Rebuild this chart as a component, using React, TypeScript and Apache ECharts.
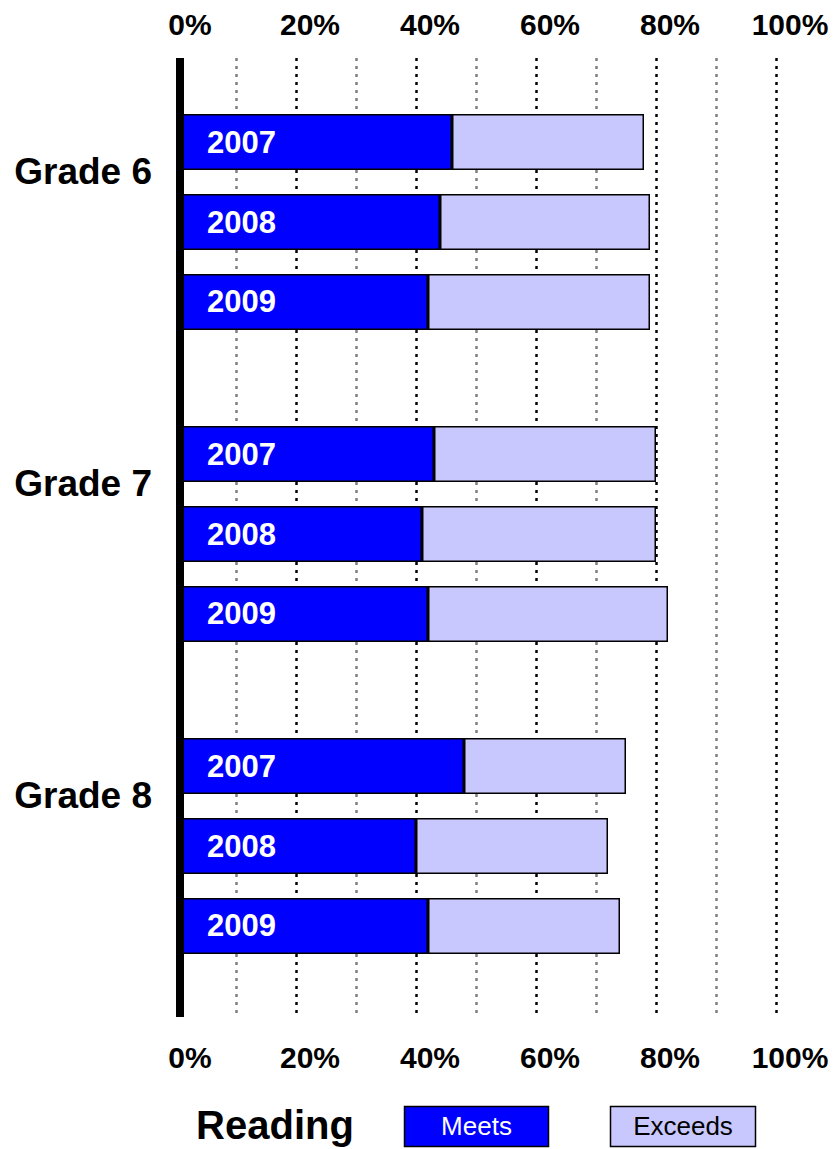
import React, { useEffect, useRef } from "react";
import * as echarts from "echarts";

const GRADES = ["Grade 6", "Grade 7", "Grade 8"];
const YEARS = ["2007", "2008", "2009"];
// values per year, across grades (percent)
const MEETS_2007 = [46, 43, 48];
const EXCEEDS_2007 = [32, 37, 27];
const MEETS_2008 = [44, 41, 40];
const EXCEEDS_2008 = [35, 39, 32];
const MEETS_2009 = [42, 42, 42];
const EXCEEDS_2009 = [37, 40, 32];
const X_TICKS = [0, 20, 40, 60, 80, 100];

const MEETS = [MEETS_2007, MEETS_2008, MEETS_2009];
const EXCEEDS = [EXCEEDS_2007, EXCEEDS_2008, EXCEEDS_2009];

const FONT = '"Liberation Sans", Arial, Helvetica, sans-serif';
const DARK = "#0000FF";
const LIGHT = "#C8C8FF";

export default function App() {
  const ref = useRef<HTMLDivElement>(null);

  useEffect(() => {
    if (!ref.current) return;
    const chart = echarts.init(ref.current, null, { renderer: "svg" });

    const series: any[] = [];
    YEARS.forEach((yr, i) => {
      series.push({
        name: "Meets",
        type: "bar",
        xAxisIndex: 2,
        yAxisIndex: 0,
        stack: "y" + yr,
        barWidth: 56,
        barGap: "42.857%",
        data: MEETS[i],
        itemStyle: { color: DARK, borderColor: "#000", borderWidth: 1.5 },
        label: {
          show: true,
          position: "insideLeft",
          distance: 31,
          formatter: () => yr,
          color: "#fff",
          fontSize: 31,
          fontWeight: "bold",
          fontFamily: FONT,
        },
        z: 3,
      });
      series.push({
        name: "Exceeds",
        type: "bar",
        xAxisIndex: 2,
        yAxisIndex: 0,
        stack: "y" + yr,
        barWidth: 56,
        barGap: "42.857%",
        data: EXCEEDS[i],
        itemStyle: { color: LIGHT, borderColor: "#000", borderWidth: 1.5 },
        z: 3,
      });
    });

    const tickLabel = {
      fontSize: 30,
      fontWeight: "bold",
      fontFamily: FONT,
      color: "#000",
      padding: [0, 0, 0, 28],
      formatter: (v: number) => (X_TICKS.indexOf(v) >= 0 ? v + "%" : ""),
    };

    const option: any = {
      animation: false,
      backgroundColor: "#fff",
      grid: [
        { left: 176, width: 600, top: 66, height: 936, containLabel: false },
        { left: 176, width: 600, top: 58, height: 959, containLabel: false },
      ],
      xAxis: [
        {
          type: "value",
          gridIndex: 1,
          position: "top",
          min: 0,
          max: 100,
          interval: 20,
          axisLine: { show: false },
          axisTick: { show: false },
          axisLabel: { ...tickLabel, margin: 19 },
          minorTick: { show: false, splitNumber: 2 },
          splitLine: {
            show: true,
            showMinLine: false,
            lineStyle: { color: "#000", width: 2.5, type: [3, 5] },
          },
          minorSplitLine: {
            show: true,
            lineStyle: { color: "#808080", width: 2.5, type: [3, 5] },
          },
          z: 0,
        },
        {
          type: "value",
          gridIndex: 1,
          position: "bottom",
          min: 0,
          max: 100,
          interval: 20,
          axisLine: { show: false },
          axisTick: { show: false },
          axisLabel: { ...tickLabel, margin: 25 },
          splitLine: { show: false },
          z: 0,
        },
        {
          type: "value",
          gridIndex: 0,
          min: 0,
          max: 100,
          interval: 20,
          show: false,
          splitLine: { show: false },
        },
      ],
      yAxis: [
        {
          type: "category",
          gridIndex: 0,
          inverse: true,
          data: GRADES,
          axisLine: { show: false },
          axisTick: { show: false },
          splitLine: { show: false },
          axisLabel: {
            margin: 24,
            fontSize: 37,
            fontWeight: "bold",
            fontFamily: FONT,
            color: "#000",
            lineHeight: 102,
            verticalAlign: "bottom",
          },
        },
        {
          type: "value",
          gridIndex: 1,
          offset: -4,
          axisLine: {
            show: true,
            onZero: false,
            lineStyle: { color: "#000", width: 8, cap: "butt" },
          },
          axisTick: { show: false },
          axisLabel: { show: false },
          splitLine: { show: false },
          z: 10,
        },
      ],
      series,
      graphic: [
        {
          type: "text",
          x: 275,
          y: 1125,
          style: {
            text: "Reading",
            fontSize: 40,
            fontWeight: "bold",
            fontFamily: FONT,
            fill: "#000",
            align: "center",
            verticalAlign: "middle",
          },
        },
        {
          type: "rect",
          shape: { x: 404.5, y: 1106.5, width: 144, height: 40 },
          style: { fill: DARK, stroke: "#000", lineWidth: 1.5 },
        },
        {
          type: "text",
          x: 476.5,
          y: 1126,
          style: {
            text: "Meets",
            fontSize: 26,
            fontFamily: FONT,
            fill: "#fff",
            align: "center",
            verticalAlign: "middle",
          },
        },
        {
          type: "rect",
          shape: { x: 610.5, y: 1106.5, width: 145, height: 40 },
          style: { fill: LIGHT, stroke: "#000", lineWidth: 1.5 },
        },
        {
          type: "text",
          x: 683,
          y: 1126,
          style: {
            text: "Exceeds",
            fontSize: 26,
            fontFamily: FONT,
            fill: "#000",
            align: "center",
            verticalAlign: "middle",
          },
        },
      ],
    };

    chart.setOption(option);
    return () => chart.dispose();
  }, []);

  return (
    <div
      ref={ref}
      style={{ position: "fixed", left: 0, top: 0, width: 836, height: 1149 }}
    />
  );
}
